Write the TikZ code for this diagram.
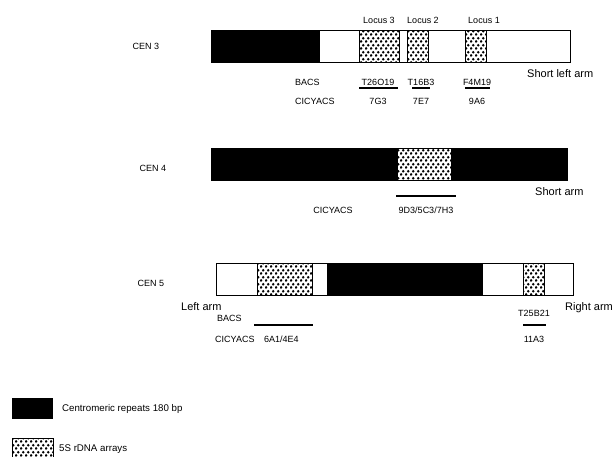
\documentclass[tikz,border=0pt]{standalone}
\usepackage{fontspec}
\setmainfont{Liberation Sans}
\usetikzlibrary{patterns.meta}
\definecolor{CENInk}{HTML}{000000}

\tikzdeclarepattern{
  name=rdnadots,
  type=uncolored,
  bottom left={(0pt,0pt)},
  top right={(5pt,7pt)},
  tile size={(5pt,7pt)},
  code={
    \fill (1.25pt,1.75pt) circle (1.6pt);
    \fill (3.75pt,5.25pt) circle (1.6pt);
  }
}

\begin{document}
\begin{tikzpicture}[x=1pt,y=-1pt,
    cenbar/.style={draw=CENInk,line width=.8pt,fill=white},
    repeats/.style={fill=CENInk},
    rdna/.style={draw=CENInk,line width=.8pt,preaction={fill=white},pattern=rdnadots,pattern color=CENInk},
    clone/.style={CENInk,line width=2pt},
    cenlbl/.style={font=\fontsize{9}{10}\selectfont,inner sep=0pt},
    lbl/.style={font=\fontsize{9}{10}\selectfont,inner sep=0pt},
    armlbl/.style={font=\fontsize{11}{12}\selectfont,inner sep=0pt},
    keylbl/.style={font=\fontsize{9.7}{12}\selectfont,inner sep=0pt,anchor=west}]
    \useasboundingbox (0,0) rectangle (613,456);

    % CEN 3
    \node[cenlbl] (cen3) at (146,46) {CEN 3};
    \draw[cenbar] (211,30) rectangle (570,62);
    \fill[repeats] (211,30) rectangle (320,62);
    \foreach \a/\b in {359/399,407/428,465/486} {
      \draw[rdna] (\a,30) rectangle (\b,62);
    }
    \draw[CENInk,line width=.8pt] (211,30) rectangle (570,62);
    \foreach \x/\n in {379/3,423/2,484/1} {
      \node[lbl] (locus\n) at (\x,20) {Locus \n};
    }
    \node[lbl,anchor=west] (bacs3) at (295,82) {BACS};
    \node[lbl,anchor=west] (yacs3) at (295,101) {CICYACS};
    \foreach \x/\a/\b/\t/\y/\k in {378/359/398/T26O19/7G3/a,421/412/430/T16B3/7E7/b,477/465/490/F4M19/9A6/c} {
      \node[lbl] (bac3\k) at (\x,82) {\t};
      \draw[clone] (\a,88) -- (\b,88);
      \node[lbl] (yac3\k) at (\x,101) {\y};
    }
    \node[armlbl,anchor=west] (arm3) at (527,74) {Short left arm};

    % CEN 4
    \node[cenlbl] (cen4) at (153,168) {CEN 4};
    \fill[repeats] (211,148) rectangle (567,180);
    \draw[rdna] (397,148) rectangle (451,180);
    \draw[CENInk,line width=.8pt] (211,148) rectangle (567,180);
    \draw[clone] (396,196) -- (456,196);
    \node[lbl] (yac4) at (426,210) {9D3/5C3/7H3};
    \node[lbl] (yacs4) at (333,210) {CICYACS};
    \node[armlbl,anchor=west] (arm4) at (535,192) {Short arm};

    % CEN 5
    \node[cenlbl] (cen5) at (151,283) {CEN 5};
    \draw[cenbar] (216,263) rectangle (573,295);
    \fill[repeats] (327,263) rectangle (483,295);
    \draw[rdna] (257,263) rectangle (312,295);
    \draw[rdna] (523,263) rectangle (544,295);
    \draw[CENInk,line width=.8pt] (216,263) rectangle (573,295);
    \node[armlbl,anchor=west] (arml5) at (181,307) {Left arm};
    \node[armlbl,anchor=west] (armr5) at (565,308) {Right arm};
    \node[lbl,anchor=west] (bacs5) at (217,318) {BACS};
    \node[lbl,anchor=west] (yacs5) at (215,339) {CICYACS};
    \draw[clone] (254,325) -- (313,325);
    \node[lbl,anchor=west] (yac5a) at (264,339) {6A1/4E4};
    \node[lbl] (bac5b) at (534,313) {T25B21};
    \draw[clone] (523,325) -- (546,325);
    \node[lbl] (yac5b) at (534,339) {11A3};

    % key
    \fill[repeats] (12,398) rectangle (53,419);
    \node[keylbl] (keyrep) at (62,409) {Centromeric repeats 180 bp};
    \draw[rdna,line width=.5pt] (12,438) rectangle (53,458);
    \node[keylbl] (keyrdna) at (59,449) {5S rDNA arrays};
\end{tikzpicture}
\end{document}
